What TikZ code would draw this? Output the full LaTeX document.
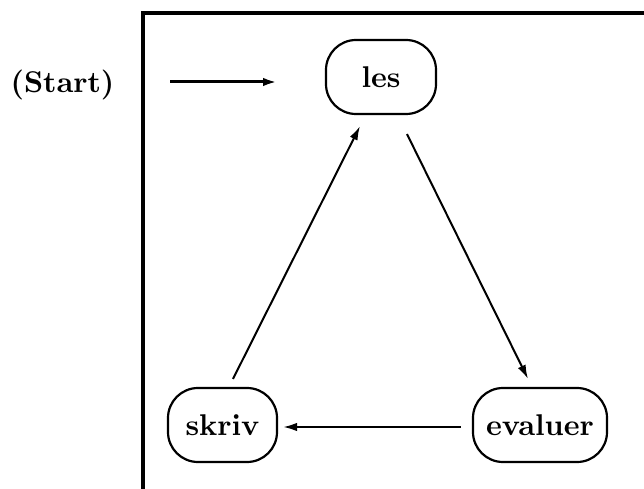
\documentclass[tikz,border=0pt]{standalone}
\usetikzlibrary{arrows.meta,calc}
\font\statefont=cmbx10 at 30pt
\begin{document}
\begin{tikzpicture}[x=1pt,y=-1pt,
  bigbold/.style={font=\statefont},
  state/.style={draw, line width=2.2pt, rounded corners=30pt,
    minimum width=#1, minimum height=74pt, inner sep=0pt, bigbold},
  flow/.style={line width=2pt, -{Latex[length=14pt,width=8.5pt]}},
  frame/.style={line width=4.5pt}]
\useasboundingbox (0,0) rectangle (644,489);

% frame around the cycle
\draw[frame] (143,489) -- (143,13) -- (644,13);

% states
\node[state=110pt] (les) at (381,77) {les};
\node[state=109pt] (skriv) at (222.5,425) {skriv};
\node[state=134pt] (evaluer) at (540,425) {evaluer};

% entry
\node[bigbold, inner sep=0pt] (start) at (62.5,85) {(Start)};
\coordinate (in0) at (170,82);
\coordinate (in1) at (277,82);
\draw[line width=3pt, -{Latex[length=14pt,width=8.5pt]}] (in0) -- (in1);

% transitions
\draw[flow] ($(skriv.north)+(10.5,-8)$) -- ($(les.south)+(-21,11)$);
\draw[flow] ($(les.south)+(26,19)$) -- ($(evaluer.north)+(-12,-8)$);
\draw[flow] ($(evaluer.west)+(-11,2)$) -- ($(skriv.east)+(5,2)$);
\end{tikzpicture}
\end{document}
